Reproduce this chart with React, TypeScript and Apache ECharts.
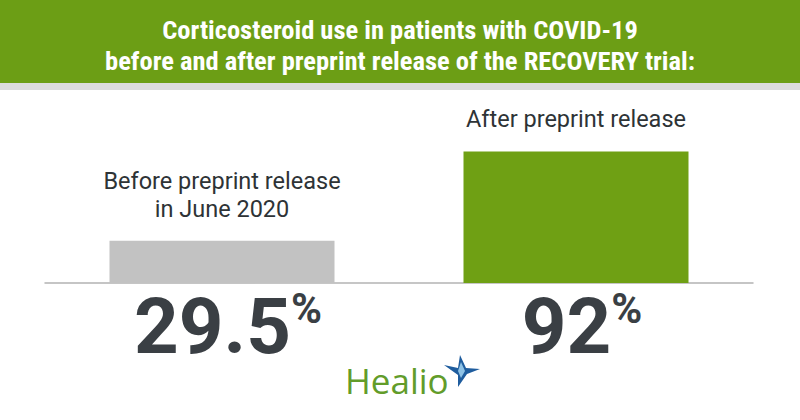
import React, { useEffect, useRef } from "react";
import * as echarts from "echarts";

const titleLines = [
  "Corticosteroid use in patients with COVID-19",
  "before and after preprint release of the RECOVERY trial:",
];
const categories = ["Before preprint release\nin June 2020", "After preprint release"];
const values = [29.5, 92];
const valueLabels = ["29.5", "92"];
const barColors = ["#c2c2c2", "#6fa014"];
const brand = "Healio";

export default function App() {
  const ref = useRef<HTMLDivElement>(null);
  useEffect(() => {
    if (!ref.current) return;
    const chart = echarts.init(ref.current, undefined, { renderer: "svg" });
    const c = 462, m = 371;
    chart.setOption({
      animation: false,
      backgroundColor: "#ffffff",
      title: {
        text: titleLines.join("\n"),
        left: "center",
        top: 9,
        z: 10,
        textStyle: {
          color: "#ffffff",
          fontFamily: "'Liberation Sans Narrow', 'Roboto Condensed', Roboto, sans-serif",
          fontWeight: "bold",
          fontSize: 26.5,
          lineHeight: 31,
        },
      },
      graphic: [
        { type: "rect", z: -10, shape: { x: 0, y: 0, width: 800, height: 83 }, style: { fill: "#6c9e15" } },
        { type: "rect", z: -10, shape: { x: 0, y: 83, width: 800, height: 7 }, style: { fill: "#dcdcdc" } },
        {
          type: "text",
          x: 345,
          y: 380,
          style: {
            text: brand,
            fill: "#629c2a",
            font: "35px 'Open Sans', sans-serif",
            textAlign: "left",
            textVerticalAlign: "middle",
          },
        },
        {
          type: "polygon",
          shape: {
            points: [
              [c - 2, 355], [c + 4, m - 3], [c + 18, m - 2], [c + 5, m + 3],
              [c - 4, m + 16], [c - 4, m + 4], [c - 18, m - 6], [c - 4, m - 3],
            ],
          },
          style: { fill: "#1f5d9e" },
        },
        {
          type: "polygon",
          shape: { points: [[c - 1, m - 9], [c + 3, m], [c - 1, m + 7], [c - 4, m]] },
          style: { fill: "#8fc3e6" },
        },
      ],
      grid: { left: 45, right: 47, top: 140, bottom: 137 },
      xAxis: {
        type: "category",
        data: categories,
        axisLine: { lineStyle: { color: "#b3b3b3", width: 1.5 } },
        axisTick: { show: false },
        axisLabel: { show: false },
      },
      yAxis: { type: "value", min: 0, max: 100, show: false, splitLine: { show: false } },
      series: [
        {
          type: "bar",
          barWidth: 225,
          data: values.map((v, i) => ({ value: v, itemStyle: { color: barColors[i] } })),
          label: {
            show: true,
            position: "top",
            distance: 18,
            formatter: (p: any) => categories[p.dataIndex],
            color: "#2e3336",
            fontFamily: "Roboto, sans-serif",
            fontSize: 23.5,
            lineHeight: 28,
            align: "center",
          },
        },
        {
          type: "bar",
          barWidth: 225,
          barGap: "-100%",
          data: values.map((v) => ({ value: v, itemStyle: { color: "rgba(0,0,0,0)" } })),
          label: {
            show: true,
            position: "bottom",
            distance: 4,
            offset: [6, 0],
            formatter: (p: any) => `{n|${valueLabels[p.dataIndex]}}{p|%}`,
            rich: {
              n: {
                fontFamily: "Roboto, sans-serif",
                fontWeight: "bold",
                fontSize: 78,
                lineHeight: 78,
                color: "#3a3f44",
              },
              p: {
                fontFamily: "Roboto, sans-serif",
                fontWeight: "bold",
                fontSize: 42,
                lineHeight: 44,
                color: "#3a3f44",
                verticalAlign: "top",
              },
            },
          },
        },
      ],
    });
    return () => chart.dispose();
  }, []);
  return (
    <div
      ref={ref}
      style={{ position: "fixed", left: 0, top: 0, width: 800, height: 420 }}
    />
  );
}
